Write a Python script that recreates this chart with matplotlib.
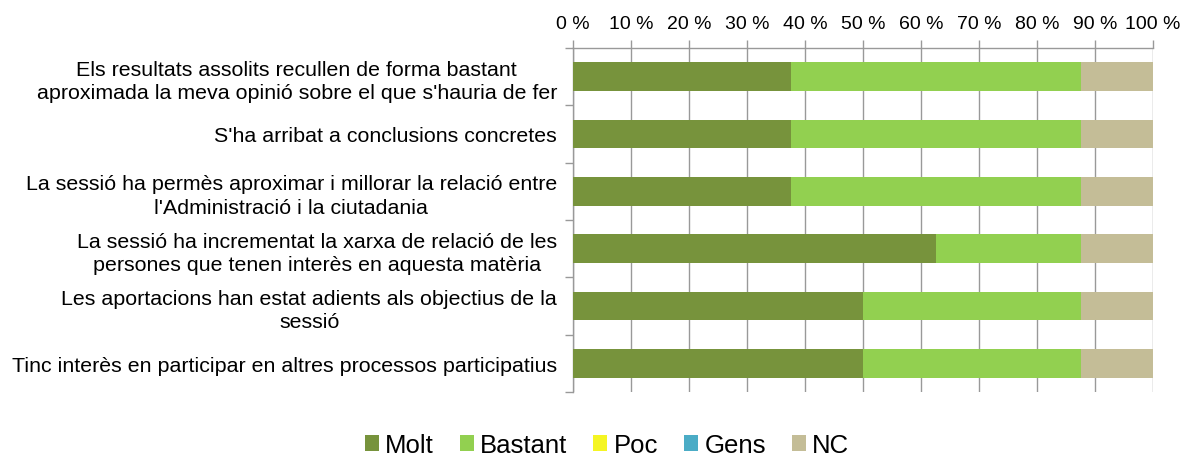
import numpy as np
import matplotlib.pyplot as plt
from matplotlib.ticker import FixedLocator

plt.rcParams['font.family'] = ['Liberation Sans', 'DejaVu Sans']

preguntes = [
    "Els resultats assolits recullen de forma bastant\naproximada la meva opinió sobre el que s'hauria de fer",
    "S'ha arribat a conclusions concretes",
    "La sessió ha permès aproximar i millorar la relació entre\nl'Administració i la ciutadania",
    "La sessió ha incrementat la xarxa de relació de les\npersones que tenen interès en aquesta matèria",
    "Les aportacions han estat adients als objectius de la\nsessió",
    "Tinc interès en participar en altres processos participatius",
]
molt = [37.5, 37.5, 37.5, 62.5, 50.0, 50.0]
bastant = [50.0, 50.0, 50.0, 25.0, 37.5, 37.5]
poc = [0, 0, 0, 0, 0, 0]
gens = [0, 0, 0, 0, 0, 0]
nc = [12.5, 12.5, 12.5, 12.5, 12.5, 12.5]

series = [('Molt', molt, '#77933C'), ('Bastant', bastant, '#92D050'),
          ('Poc', poc, '#F5F523'), ('Gens', gens, '#4BACC6'),
          ('NC', nc, '#C4BD97')]

fig = plt.figure(figsize=(11.93, 4.56), dpi=100)
ax = fig.add_axes([573/1193, 1 - 393/456, 580/1193, 344/456])

y = np.arange(len(preguntes))
left = np.zeros(len(preguntes))
for nom, vals, col in series:
    ax.barh(y, vals, left=left, height=0.5, color=col, label=nom, zorder=3)
    left += np.array(vals)

ax.set_xlim(0, 100)
ax.set_ylim(len(preguntes) - 0.5, -0.5)
ax.xaxis.tick_top()
ax.set_xticks(np.arange(0, 101, 10))
ax.set_xticklabels([f'{v} %' for v in range(0, 101, 10)], fontsize=14)
ax.tick_params(axis='x', direction='out', length=6, color='#999999', width=1, pad=5.5)
ax.grid(axis='x', color='#999999', linewidth=1, zorder=0)

ax.set_yticks(y)
ax.set_yticklabels(preguntes, fontsize=15.4, multialignment='center', linespacing=1.3)
ax.tick_params(axis='y', which='major', length=0, pad=11.5)
ax.yaxis.set_minor_locator(FixedLocator(np.arange(-0.5, len(preguntes), 1.0)))
ax.tick_params(axis='y', which='minor', direction='out', length=6, color='#999999', width=1)

for s in ['right', 'bottom']:
    ax.spines[s].set_visible(False)
for s in ['left', 'top']:
    ax.spines[s].set_color('#999999')
    ax.spines[s].set_linewidth(1)

fig.legend(loc='center', bbox_to_anchor=(607/1193, 1 - 446/456), ncol=5,
           frameon=False, fontsize=18.5, handlelength=0.55, handleheight=0.55,
           handletextpad=0.25, columnspacing=1.0, borderpad=0)

plt.savefig('out.png', dpi=100)
